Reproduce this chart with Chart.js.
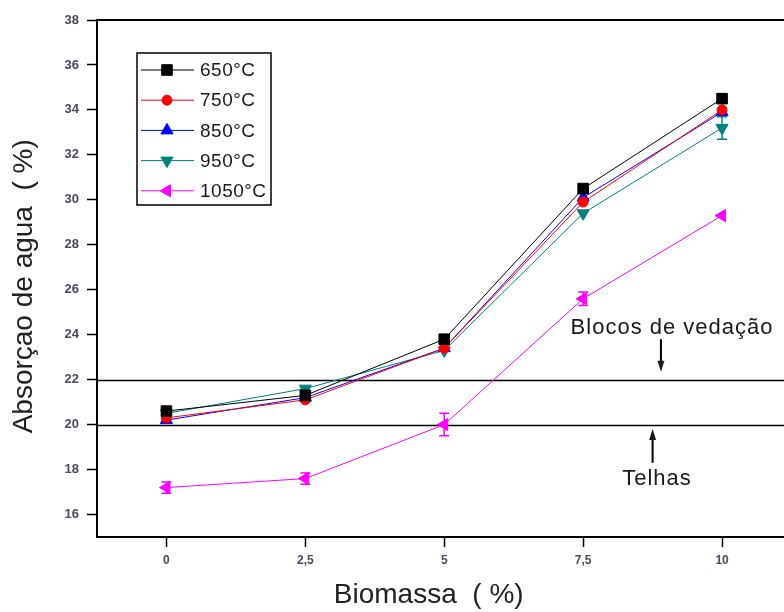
<!DOCTYPE html>
<html>
<head>
<meta charset="utf-8">
<script src="https://cdn.jsdelivr.net/npm/chart.js@4"></script>
<style>
  html, body { margin: 0; padding: 0; overflow: hidden; background: #fff; }
</style>
</head>
<body>
<canvas id="chartAbs" width="800" height="612"></canvas>
<script>
// dados
const biomassa = [0, 2.5, 5, 7.5, 10];
const temperaturas = ["650°C", "750°C", "850°C", "950°C", "1050°C"];
const abs650 = [20.6, 21.3, 23.8, 30.5, 34.5];
const abs750 = [20.3, 21.1, 23.4, 29.9, 34.0];
const abs850 = [20.2, 21.2, 23.4, 30.1, 33.9];
const abs950 = [20.5, 21.6, 23.3, 29.4, 33.2];
const abs1050 = [17.2, 17.6, 20.0, 25.6, 29.3];
const err950 = [0, 0, 0, 0, 0.5];
const err1050 = [0.25, 0.25, 0.5, 0.3, 0];
const yTicks = [16, 18, 20, 22, 24, 26, 28, 30, 32, 34, 36, 38];
const limites = [22, 20];   // Blocos de vedação / Telhas

const cores = ["#000000", "#ff0000", "#0000ff", "#008080", "#ff00ff"];
const estilos = ["rect", "circle", "triangle", "triangle", "triangle"];
const rotacoes = [0, 0, 0, 180, -90];
const raios = [7.5, 5, 7, 7, 7];
const series = [abs650, abs750, abs850, abs950, abs1050];
const erros = [null, null, null, err950, err1050];

const datasets = series.map((s, i) => ({
  label: temperaturas[i],
  data: s.map((v, j) => ({ x: biomassa[j], y: v })),
  borderColor: cores[i],
  backgroundColor: cores[i],
  borderWidth: 1,
  pointStyle: estilos[i],
  rotation: rotacoes[i],
  pointRadius: raios[i],
  pointBorderWidth: 1,
  erro: erros[i]
}));

const extras = {
  id: "extras",
  beforeDatasetsDraw(chart) {
    const { ctx, chartArea: a, scales: { y } } = chart;
    ctx.save();
    ctx.strokeStyle = "#000";
    ctx.lineWidth = 1.5;
    limites.forEach(v => {
      const py = Math.round(y.getPixelForValue(v)) + 0.5;
      ctx.beginPath(); ctx.moveTo(a.left, py); ctx.lineTo(a.right, py); ctx.stroke();
    });
    // linha de topo
    ctx.lineWidth = 2;
    ctx.beginPath(); ctx.moveTo(a.left, a.top); ctx.lineTo(a.right, a.top); ctx.stroke();
    ctx.restore();
  },
  afterDatasetsDraw(chart) {
    const { ctx, chartArea: a, scales: { x, y } } = chart;
    ctx.save();
    // barras de erro
    chart.data.datasets.forEach(ds => {
      if (!ds.erro) return;
      ctx.strokeStyle = ds.borderColor;
      ctx.lineWidth = 1.5;
      ds.data.forEach((p, j) => {
        const e = ds.erro[j];
        if (!e) return;
        const px = x.getPixelForValue(p.x);
        const y1 = y.getPixelForValue(p.y - e), y2 = y.getPixelForValue(p.y + e);
        ctx.beginPath();
        ctx.moveTo(px, y1); ctx.lineTo(px, y2);
        ctx.moveTo(px - 5, y1); ctx.lineTo(px + 5, y1);
        ctx.moveTo(px - 5, y2); ctx.lineTo(px + 5, y2);
        ctx.stroke();
      });
    });

    // textos e setas
    ctx.fillStyle = "#1a1a1a";
    ctx.strokeStyle = "#000";
    ctx.font = "22px 'Liberation Sans', Arial, sans-serif";
    ctx.letterSpacing = "1px";
    ctx.textAlign = "center";
    ctx.textBaseline = "middle";
    ctx.fillText("Blocos de vedação", x.getPixelForValue(9.1), y.getPixelForValue(24.3));
    ctx.fillText("Telhas", x.getPixelForValue(8.83), y.getPixelForValue(17.6));
    const seta = (xv, y0, y1) => {
      const px = x.getPixelForValue(xv);
      const p0 = y.getPixelForValue(y0), p1 = y.getPixelForValue(y1);
      const d = p1 > p0 ? 1 : -1;
      ctx.lineWidth = 2;
      ctx.beginPath(); ctx.moveTo(px, p0); ctx.lineTo(px, p1 - 4 * d); ctx.stroke();
      ctx.beginPath();
      ctx.moveTo(px, p1); ctx.lineTo(px - 3.5, p1 - 11 * d); ctx.lineTo(px + 3.5, p1 - 11 * d);
      ctx.closePath(); ctx.fill();
    };
    seta(8.9, 23.8, 22.35);
    seta(8.75, 18.3, 19.8);

    // legenda
    const lx = a.left + 40, ly = a.top + 33, lw = 134, lh = 152;
    ctx.fillStyle = "#fff";
    ctx.fillRect(lx, ly, lw, lh);
    ctx.lineWidth = 1.5;
    ctx.strokeRect(lx, ly, lw, lh);
    ctx.font = "19px 'Liberation Sans', Arial, sans-serif";
    ctx.letterSpacing = "0.5px";
    ctx.textAlign = "left";
    chart.data.datasets.forEach((ds, i) => {
      const cy = ly + 17 + i * 30.2;
      ctx.strokeStyle = ds.borderColor;
      ctx.lineWidth = 1;
      ctx.beginPath(); ctx.moveTo(lx + 4, cy); ctx.lineTo(lx + 57, cy); ctx.stroke();
      ctx.fillStyle = ds.backgroundColor;
      Chart.helpers.drawPoint(ctx, {
        pointStyle: ds.pointStyle, rotation: ds.rotation,
        radius: ds.pointRadius, borderWidth: 1
      }, lx + 30, cy);
      ctx.fillStyle = "#1a1a1a";
      ctx.fillText(ds.label, lx + 63, cy + 1);
    });
    ctx.restore();
  }
};

const fonte = "'Liberation Sans', Arial, sans-serif";
const ctx = document.getElementById("chartAbs").getContext("2d");
const grafico = new Chart(ctx, {
  type: "line",
  data: { datasets },
  plugins: [extras],
  options: {
    responsive: false,
    animation: false,
    layout: { padding: { top: 20, right: 6, left: 0, bottom: 0 } },
    plugins: { legend: { display: false }, tooltip: { enabled: false } },
    scales: {
      x: {
        type: "linear",
        min: -1.25,
        max: 11.25,
        afterBuildTicks: s => { s.ticks = biomassa.map(v => ({ value: v })); },
        afterFit: s => { s.height = 75; },
        grid: { drawOnChartArea: false, tickLength: 10, tickColor: "#000", tickWidth: 1.5 },
        border: { color: "#000", width: 2 },
        ticks: {
          color: "#4a4a5e",
          padding: 6,
          font: { family: fonte, size: 12, weight: "bold" },
          callback: v => String(v).replace(".", ",")
        },
        title: {
          display: true,
          text: "Biomassa  ( %)\u00a0\u00a0\u00a0\u00a0",
          color: "#222",
          padding: { top: 0, bottom: 0 },
          font: { family: fonte, size: 28 }
        }
      },
      y: {
        min: 15,
        max: 38,
        afterBuildTicks: s => { s.ticks = yTicks.map(v => ({ value: v })); },
        afterFit: s => { s.width = 97; },
        grid: { drawOnChartArea: false, tickLength: 10, tickColor: "#000", tickWidth: 1.5 },
        border: { color: "#000", width: 2 },
        ticks: {
          color: "#4a4a5e",
          padding: 8,
          font: { family: fonte, size: 13, weight: "bold" }
        },
        title: {
          display: true,
          text: "Absorçao de agua  ( %)\u00a0\u00a0",
          color: "#222",
          padding: { top: 7, bottom: 0 },
          font: { family: fonte, size: 28 }
        }
      }
    }
  }
});
</script>
</body>
</html>
